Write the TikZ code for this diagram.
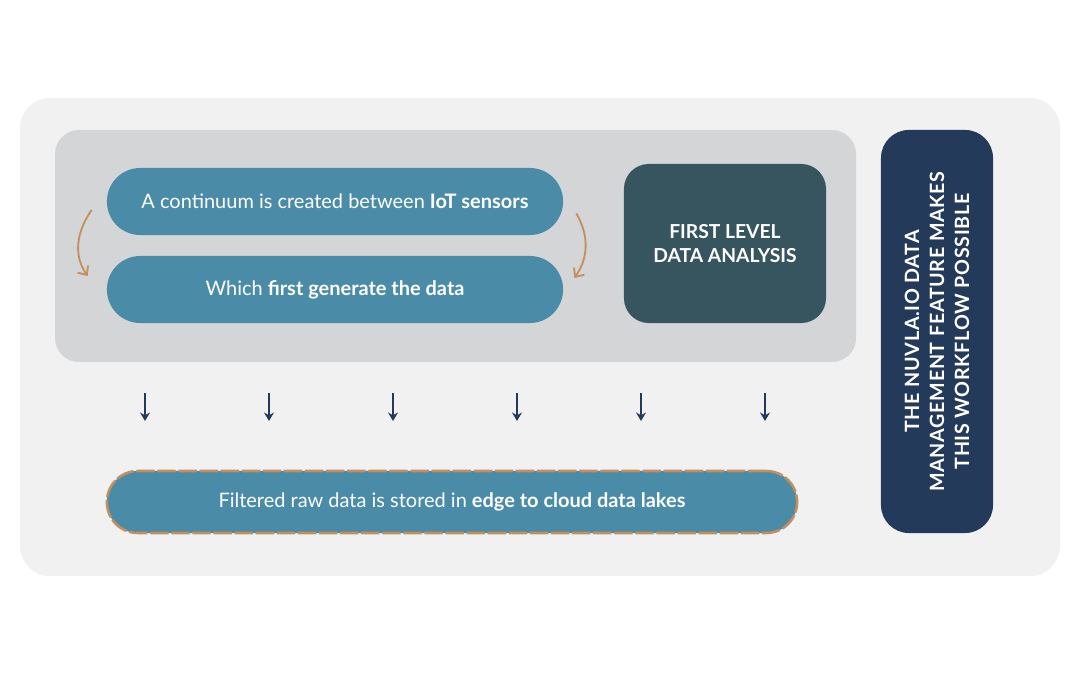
\documentclass[tikz,border=0pt]{standalone}
\usepackage{fontspec}
\setmainfont{Lato}
\usetikzlibrary{arrows.meta,calc}
\definecolor{paper}{HTML}{F1F1F1}
\definecolor{slab}{HTML}{D4D5D7}
\definecolor{lake}{HTML}{4A8BA8}
\definecolor{slate}{HTML}{37555F}
\definecolor{navy}{HTML}{243A5A}
\definecolor{copper}{HTML}{C38F5C}

\begin{document}
\begin{tikzpicture}[x=0.025cm,y=-0.025cm,text=white,
  pill/.style={fill=lake,rounded corners=0.83cm,inner sep=0pt,
    minimum width=11.4cm,minimum height=1.675cm,font=\fontsize{14.2}{17}\selectfont},
  curl/.style={draw=copper,line width=1.3pt,-{Straight Barb[length=5pt,width=9pt]}},
  down/.style={draw=navy,line width=1.6pt,-{Stealth[length=6pt,width=7pt]}}]
  \useasboundingbox[fill=white] (0,0) rectangle (1080,675);

  \fill[paper,rounded corners=0.75cm] (20,98) rectangle (1060,576);
  \fill[slab,rounded corners=0.6cm] (55,130) rectangle (856,362);

  \node[pill] (sense) at (335,201.5)
    {A continuum is created between \textbf{IoT sensors}};
  \node[pill] (make) at (335,289.5)
    {Which \textbf{first generate the data}};

  \node[fill=slate,rounded corners=0.62cm,minimum width=5.05cm,
        minimum height=3.975cm,align=center,inner sep=0pt,
        font=\bfseries\fontsize{13.7}{17}\selectfont] (analysis) at (725,243.5)
    {FIRST LEVEL\\DATA ANALYSIS};

  \node[fill=navy,rotate=90,rounded corners=0.7cm,minimum width=10.075cm,
        minimum height=2.8cm,align=center,inner sep=0pt,
        font=\bfseries\addfontfeature{LetterSpace=3.5}\fontsize{14}{17.8}\selectfont]
    (nuvla) at (937,331.5)
    {THE NUVLA.IO DATA\\MANAGEMENT FEATURE MAKES\\THIS WORKFLOW POSSIBLE};

  \node[pill,minimum width=17.25cm,minimum height=1.55cm,rounded corners=0.77cm,
        draw=copper,line width=1.8pt,dash pattern=on 13pt off 2pt] (store) at (452,502)
    {Filtered raw data is stored in \textbf{edge to cloud data lakes}};

  \draw[curl] ($(sense.west)+(-15,8.5)$) to[out=235,in=125]
    ($(make.west)+(-19,-13.5)$);
  \draw[curl] ($(sense.east)+(13,12)$) to[out=300,in=55]
    ($(make.east)+(11,-11.5)$);

  \foreach \x [count=\i] in {145,269,393,517,641,765} {
    \coordinate (top\i) at (\x,393);
    \coordinate (bot\i) at (\x,421);
    \draw[down] (top\i) -- (bot\i);
  }
\end{tikzpicture}
\end{document}
